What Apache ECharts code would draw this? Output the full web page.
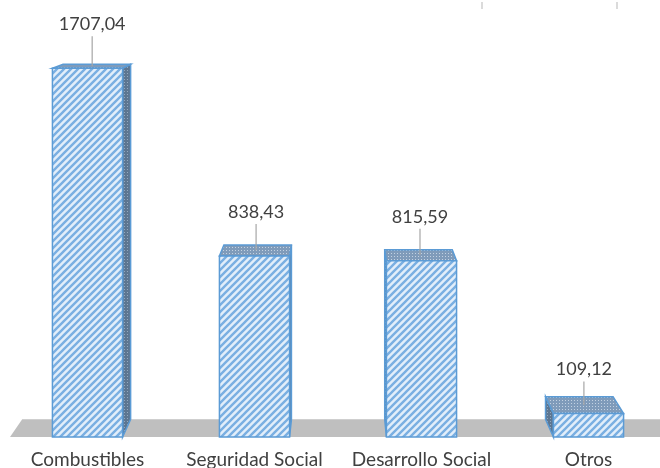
<!DOCTYPE html>
<html><head><meta charset="utf-8">
<script src="https://cdn.jsdelivr.net/npm/echarts@6/dist/echarts.min.js"></script>
<style>html,body{margin:0;padding:0;background:#fff}#c{width:660px;height:468px}</style>
</head><body><div id="c"></div>
<script>
const categories = ['Combustibles', 'Seguridad Social', 'Desarrollo Social', 'Otros'];
const values = [1707.04, 838.43, 815.59, 109.12];
const valueLabels = ['1707,04', '838,43', '815,59', '109,12'];

function makePattern(w, h, draw) {
  const c = document.createElement('canvas');
  c.width = w; c.height = h;
  draw(c.getContext('2d'), w, h);
  return { image: c, repeat: 'repeat' };
}
const frontPat = makePattern(7, 7, (ctx, w, h) => {
  ctx.fillStyle = '#e2eefa'; ctx.fillRect(0, 0, w, h);
  ctx.strokeStyle = '#7aafe2'; ctx.lineWidth = 2.4;
  ctx.beginPath();
  ctx.moveTo(-1, h + 1); ctx.lineTo(w + 1, -1);
  ctx.moveTo(-2, 2); ctx.lineTo(2, -2);
  ctx.moveTo(w - 2, h + 2); ctx.lineTo(w + 2, h - 2);
  ctx.stroke();
});
const dotPat = (bg, dot) => makePattern(3, 3, (ctx, w, h) => {
  ctx.fillStyle = bg; ctx.fillRect(0, 0, w, h);
  ctx.fillStyle = dot; ctx.fillRect(1, 1, 1, 1);
});
const topPat = dotPat('#7f9bba', '#c3d2e2');
const sidePat = dotPat('#5d7691', '#93a8bf');

// perspective "camera"
const VPX = 340, HORIZON = -40, DEPTH = 0.037;
function back(p) { return [p[0] + DEPTH * (VPX - p[0]), p[1] + DEPTH * (HORIZON - p[1])]; }

const border = { stroke: '#5b9bd5', lineWidth: 1.5 };

function renderBar(params, api) {
  const idx = api.value(0), v = api.value(1);
  const top = api.coord([idx, v]);
  const base = api.coord([idx, 0]);
  const bw = api.size([1, 0])[0] * 0.42;
  const x0 = top[0] - bw / 2, x1 = top[0] + bw / 2, y0 = top[1], y1 = base[1];
  const b00 = back([x0, y0]), b10 = back([x1, y0]), b01 = back([x0, y1]), b11 = back([x1, y1]);
  const ch = [];
  if (b10[0] > x1 + 0.5) ch.push({ type: 'polygon', shape: { points: [[x1, y0], b10, b11, [x1, y1]] }, style: Object.assign({ fill: sidePat }, border) });
  if (b00[0] < x0 - 0.5) ch.push({ type: 'polygon', shape: { points: [[x0, y0], b00, b01, [x0, y1]] }, style: Object.assign({ fill: sidePat }, border) });
  ch.push({ type: 'polygon', shape: { points: [[x0, y0], [x1, y0], b10, b00] }, style: Object.assign({ fill: topPat }, border) });
  ch.push({ type: 'rect', shape: { x: x0, y: y0, width: x1 - x0, height: y1 - y0 }, style: Object.assign({ fill: frontPat }, border) });
  const tcx = (x0 + x1 + b10[0] + b00[0]) / 4, tcy = (y0 + b10[1]) / 2;
  const ly = y0 - 44;
  ch.push({ type: 'line', shape: { x1: tcx, y1: ly + 12, x2: tcx, y2: tcy }, style: { stroke: '#a6a6a6', lineWidth: 1.2 } });
  ch.push({ type: 'text', style: { text: valueLabels[idx], x: tcx, y: ly, align: 'center', verticalAlign: 'middle', font: '18px Lato', fill: '#404040' } });
  return { type: 'group', children: ch };
}

function renderFloor(params, api) {
  const y1 = api.coord([0, 0])[1];
  const xl = 10, xr = 720;
  return { type: 'polygon', shape: { points: [[xl, y1], [xr, y1], back([xr, y1]), back([xl, y1])] }, style: { fill: '#bfbfbf' } };
}

const chart = echarts.init(document.getElementById('c'), null, { renderer: 'canvas' });
chart.setOption({
  animation: false,
  backgroundColor: '#ffffff',
  grid: { left: 4, width: 668, top: 5, bottom: 31, outerBoundsMode: 'none', containLabel: false },
  xAxis: {
    type: 'category', data: categories,
    axisLine: { show: false }, axisTick: { show: false }, splitLine: { show: false },
    axisLabel: { color: '#404040', fontFamily: 'Lato', fontSize: 19, margin: 13, interval: 0 }
  },
  yAxis: { type: 'value', min: 0, max: 2000, show: false },
  graphic: [
    { type: 'line', shape: { x1: 482, y1: 2, x2: 482, y2: 9 }, style: { stroke: '#cfcfcf', lineWidth: 1.5 } },
    { type: 'line', shape: { x1: 617, y1: 2, x2: 617, y2: 9 }, style: { stroke: '#cfcfcf', lineWidth: 1.5 } }
  ],
  series: [
    { type: 'custom', name: 'floor', z: 1, data: [[0, 0]], encode: { x: 0, y: 1 }, renderItem: renderFloor, silent: true },
    { type: 'custom', name: 'valores', z: 2, data: values.map((v, i) => [i, v]), encode: { x: 0, y: 1 }, renderItem: renderBar, clip: false }
  ]
});
</script></body></html>
